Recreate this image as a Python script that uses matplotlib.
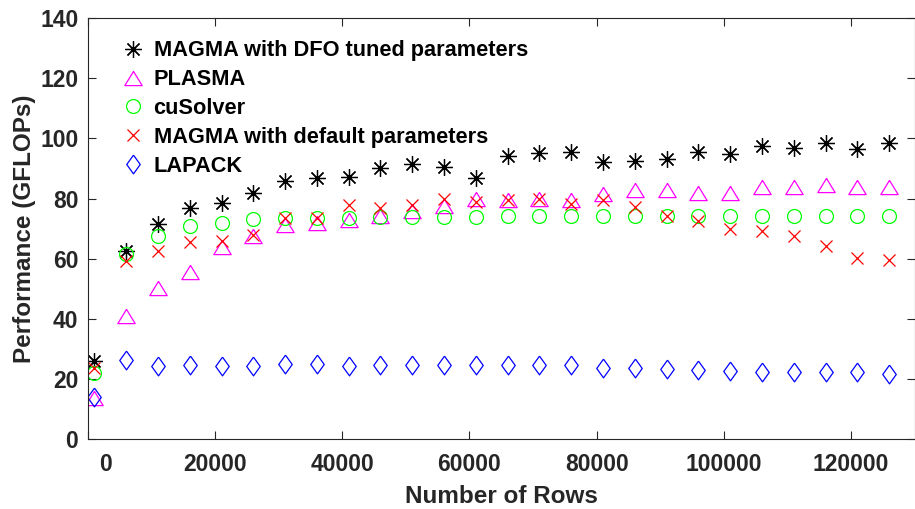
import numpy as np
import matplotlib.pyplot as plt
import matplotlib.transforms as mtransforms

# data
rows = [1000, 6000, 11000, 16000, 21000, 26000, 31000, 36000, 41000, 46000,
        51000, 56000, 61000, 66000, 71000, 76000, 81000, 86000, 91000, 96000,
        101000, 106000, 111000, 116000, 121000, 126000]
magma_dfo = [26.0, 62.7, 71.5, 77.0, 78.5, 82.0, 86.0, 86.8, 87.3, 90.1,
             91.5, 90.6, 86.8, 94.0, 95.1, 95.4, 92.0, 92.5, 93.1, 95.6,
             94.7, 97.5, 96.9, 98.6, 96.5, 98.6]
plasma = [13.7, 41.1, 50.2, 55.6, 63.8, 67.6, 71.2, 71.8, 72.9, 74.2,
          75.7, 77.6, 79.8, 79.6, 79.7, 79.4, 81.6, 82.7, 82.9, 82.0,
          82.0, 83.8, 83.8, 84.5, 84.0, 83.8]
cusolver = [22.1, 61.5, 67.6, 71.0, 72.0, 73.1, 73.5, 73.7, 73.7, 74.0,
            74.0, 74.0, 74.0, 74.2, 74.2, 74.3, 74.3, 74.3, 74.3, 74.3,
            74.2, 74.3, 74.3, 74.3, 74.3, 74.3]
magma_default = [23.7, 59.3, 62.7, 65.7, 66.0, 67.9, 73.5, 73.5, 77.8, 76.8,
                 77.9, 79.8, 79.0, 79.5, 79.7, 78.2, 79.5, 77.1, 74.3, 72.7,
                 69.9, 69.2, 67.4, 64.4, 60.4, 59.6]
lapack = [14.0, 26.4, 24.5, 24.7, 24.5, 24.5, 25.0, 25.0, 24.5, 24.7,
          24.7, 24.7, 24.7, 24.7, 24.6, 24.6, 23.6, 23.6, 23.4, 23.0,
          22.8, 22.5, 22.2, 22.5, 22.2, 21.7]
labels = ['MAGMA with DFO tuned parameters', 'PLASMA', 'cuSolver',
          'MAGMA with default parameters', 'LAPACK']

plt.rcParams['font.family'] = ['Liberation Sans', 'DejaVu Sans']
plt.rcParams['font.weight'] = 'bold'
plt.rcParams['axes.labelweight'] = 'bold'

# matlab-like markers
tri = [(0, 0.82), (-1, -0.82), (1, -0.82), (0, 0.82)]
dia = [(0, 1), (0.72, 0), (0, -1), (-0.72, 0), (0, 1)]

fig = plt.figure(figsize=(9.15, 5.09), dpi=100)
ax = fig.add_axes([88/915, 1 - 439.3/509, 1 - 88/915 - 0.0005, (439.3 - 18)/509])

ax.plot(rows, magma_dfo, ls='none', marker=(8, 2, 0), ms=12, mec='black', mew=0.9, label=labels[0])
ax.plot(rows, plasma, ls='none', marker=tri, ms=12.5, mfc='none', mec='#ff00ff', mew=0.9, label=labels[1])
ax.plot(rows, cusolver, ls='none', marker='o', ms=10, mfc='none', mec='#00ff00', mew=0.9, label=labels[2])
ax.plot(rows, magma_default, ls='none', marker='x', ms=8.5, mec='#ff0000', mew=0.9, label=labels[3])
ax.plot(rows, lapack, ls='none', marker=dia, ms=13.5, mfc='none', mec='#0000ff', mew=0.9, label=labels[4])

ax.set_xlim(0, 130000)
ax.set_ylim(0, 140)
ax.set_xticks([0, 20000, 40000, 60000, 80000, 100000, 120000])
ax.set_yticks(np.arange(0, 141, 20))
ax.tick_params(direction='in', length=6, width=0.8, top=True, right=True,
               labelsize=16.5, colors='#262626')
ax.tick_params(axis='x', pad=10)
ax.tick_params(axis='y', pad=7)
for s in ax.spines.values():
    s.set_color('#262626')
    s.set_linewidth(0.8)

# the "0" label sits a bit right of its tick in the reference
lab0 = ax.get_xticklabels()[0]
lab0.set_transform(lab0.get_transform() + mtransforms.ScaledTranslation(17/100, 0, fig.dpi_scale_trans))

ax.set_xlabel('Number of Rows', fontsize=17.5, color='#262626', labelpad=6)
ax.set_ylabel('Performance (GFLOPs)', fontsize=17.5, color='#262626', labelpad=3)

ax.legend(loc='upper left', frameon=False, fontsize=15.7, handletextpad=0.35,
          borderaxespad=0.3, labelspacing=0.36, handlelength=1.2,
          bbox_to_anchor=(0.02, 0.983))

fig.savefig('out.png', dpi=100)
